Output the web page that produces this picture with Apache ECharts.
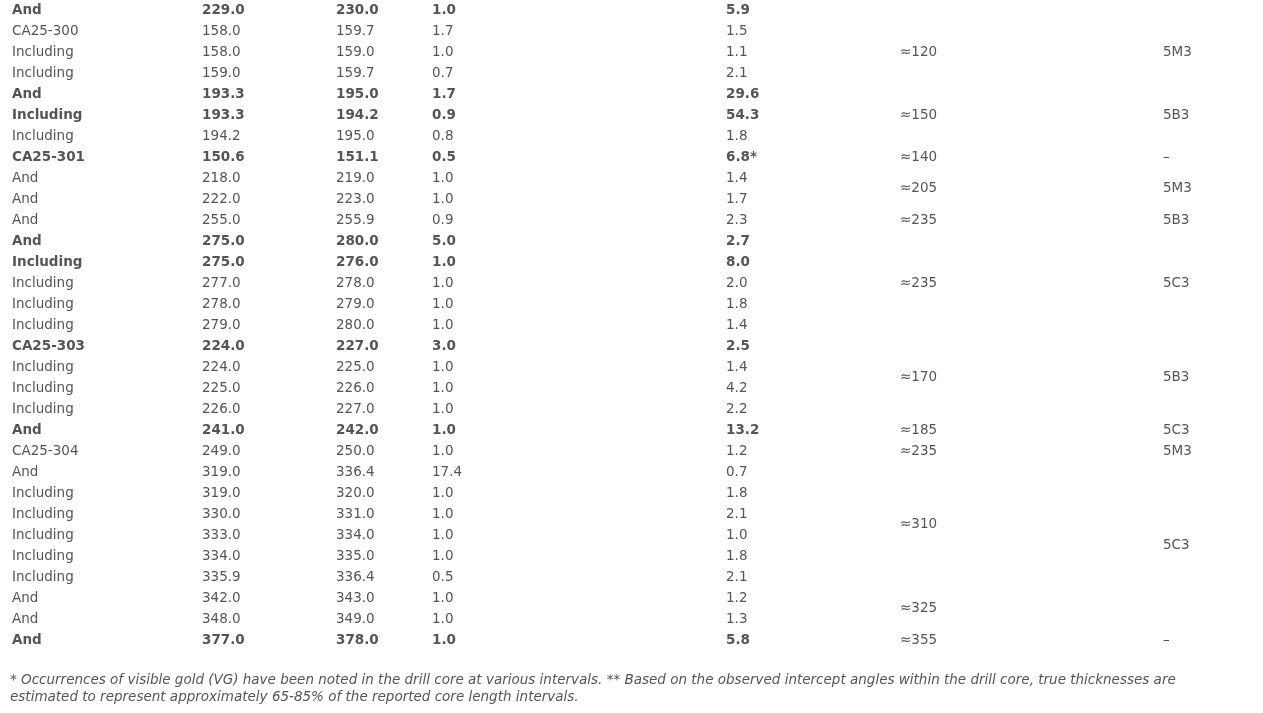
<!DOCTYPE html>
<html><head><meta charset="utf-8">
<script src="https://cdn.jsdelivr.net/npm/echarts@6/dist/echarts.min.js"></script>
<style>html,body{margin:0;padding:0;background:#fff}#c{width:1263px;height:713px}</style>
</head><body><div id="c"></div>
<script>
const holes = ["And","CA25-300","Including","Including","And","Including","Including","CA25-301","And","And","And","And","Including","Including","Including","Including","CA25-303","Including","Including","Including","And","CA25-304","And","Including","Including","Including","Including","Including","And","And","And"];
const fromM = ["229.0","158.0","158.0","159.0","193.3","193.3","194.2","150.6","218.0","222.0","255.0","275.0","275.0","277.0","278.0","279.0","224.0","224.0","225.0","226.0","241.0","249.0","319.0","319.0","330.0","333.0","334.0","335.9","342.0","348.0","377.0"];
const toM = ["230.0","159.7","159.0","159.7","195.0","194.2","195.0","151.1","219.0","223.0","255.9","280.0","276.0","278.0","279.0","280.0","227.0","225.0","226.0","227.0","242.0","250.0","336.4","320.0","331.0","334.0","335.0","336.4","343.0","349.0","378.0"];
const lengthM = ["1.0","1.7","1.0","0.7","1.7","0.9","0.8","0.5","1.0","1.0","0.9","5.0","1.0","1.0","1.0","1.0","3.0","1.0","1.0","1.0","1.0","1.0","17.4","1.0","1.0","1.0","1.0","0.5","1.0","1.0","1.0"];
const grade = ["5.9","1.5","1.1","2.1","29.6","54.3","1.8","6.8*","1.4","1.7","2.3","2.7","8.0","2.0","1.8","1.4","2.5","1.4","4.2","2.2","13.2","1.2","0.7","1.8","2.1","1.0","1.8","2.1","1.2","1.3","5.8"];
const bold = [1,0,0,0,1,1,0,1,0,0,0,1,1,0,0,0,1,0,0,0,1,0,0,0,0,0,0,0,0,0,1];
const angleText = ["≈215","≈120","≈150","≈140","≈205","≈235","≈235","≈170","≈185","≈235","≈310","≈325","≈355"];
const angleRow = [-0.72,2,5,7,8.5,10,13,17.5,20,21,24.5,28.5,30];
const domainText = ["5B4","5M3","5B3","–","5M3","5B3","5C3","5B3","5C3","5M3","5C3","–"];
const domainRow = [-0.72,2,5,7,8.5,10,13,17.5,20,21,25.5,30];
const footnote = ["* Occurrences of visible gold (VG) have been noted in the drill core at various intervals. ** Based on the observed intercept angles within the drill core, true thicknesses are","estimated to represent approximately 65-85% of the reported core length intervals."];

const colX = [12,202,336,432,726];
const rowY0 = 10, rowH = 21;
const font = '"DejaVu Sans", Verdana, sans-serif';
const col = '#555';
const els = [];
function txt(x, y, s, b, italic){
  els.push({type:'text', x, y, style:{text:s, fill:col, font:(italic?'italic ':'')+(b?'bold ':'')+'13.5px '+font, textVerticalAlign:'middle'}});
}
const cols = [holes, fromM, toM, lengthM, grade];
holes.forEach((_, i) => cols.forEach((c, k) => txt(colX[k], rowY0 + i*rowH, c[i], bold[i])));
angleText.forEach((s, i) => txt(900, rowY0 + angleRow[i]*rowH, s, 0));
domainText.forEach((s, i) => txt(1163, rowY0 + domainRow[i]*rowH, s, 0));
footnote.forEach((s, i) => txt(10, 680 + i*17, s, 0, 1));

const chart = echarts.init(document.getElementById('c'));
chart.setOption({animation:false, graphic:{elements:els}});
</script></body></html>
